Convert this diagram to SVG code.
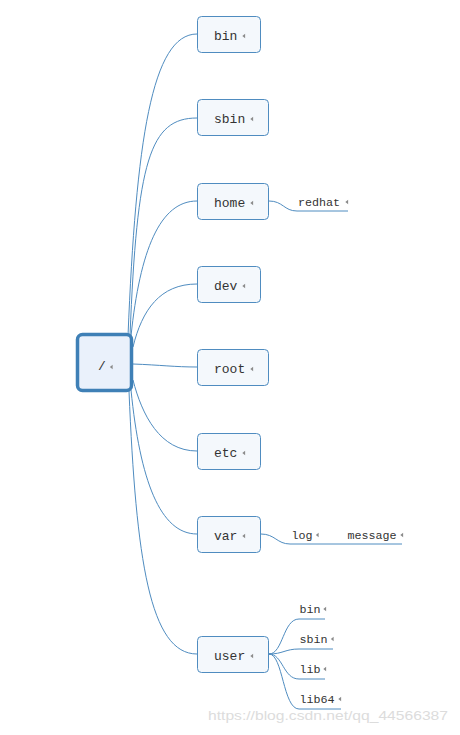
<svg xmlns="http://www.w3.org/2000/svg" width="460" height="735" viewBox="0 0 460 735">
<style>
.bg{fill:#ffffff}
.root{fill:#eaf1fb;stroke:#3f80b6;stroke-width:3.5}
.box{fill:#f4f8fc;stroke:#4f8cc0;stroke-width:1}
.t{font-family:"Liberation Mono","DejaVu Sans Mono",monospace;font-size:13px;fill:#333333}
.s{font-family:"Liberation Mono","DejaVu Sans Mono",monospace;font-size:11.7px;fill:#333333}
.c{fill:none;stroke:#4f8cc0;stroke-width:1}
.wm{font-family:"Liberation Sans",Arial,sans-serif;font-size:13.5px;fill:#dcdcdc}
.mk{fill:#8a8a8a}
</style>
<defs>
<path id="m" d="M1.6 -2.2 L-1.2 0 L1.6 2.2 Z"/>
</defs>
<rect class="bg" x="0" y="0" width="460" height="735"/>
<g id="connectors">
<path class="c" d="M128 336 C136 140 152 34 197 34"/>
<path class="c" d="M130 336 C137 160 150 118 197 118"/>
<path class="c" d="M131 336 C140 250 160 201 197 201"/>
<path class="c" d="M133 347 C142 310 160 284 197 284"/>
<path class="c" d="M133 364 C160 365 175 367 197 367"/>
<path class="c" d="M133 380 C142 415 160 451 197 451"/>
<path class="c" d="M131 390 C140 480 160 534 197 534"/>
<path class="c" d="M129 391 C136 560 150 654 197 654"/>
<path class="c" d="M269 201 C283 201 284 211 297 211 L348 211"/>
<path class="c" d="M261 534 C275 534 277 544 290 544 L402 544"/>
<path class="c" d="M269 654 C283 654 283 619 299 619 L325 619"/>
<path class="c" d="M269 654 C283 654 285 649 299 649 L333 649"/>
<path class="c" d="M269 654 C283 654 283 679 299 679 L325 679"/>
<path class="c" d="M269 654 C283 654 283 709 299 709 L341 709"/>
</g>
<g id="n-root">
<rect class="root" x="77.5" y="334.5" width="54" height="56" rx="5"/>
<text class="t" x="98" y="370" fill="#555">/</text>
<use href="#m" class="mk" x="111" y="367"/>
</g>
<g id="n-bin">
<rect class="box" x="197.5" y="16.5" width="63" height="36" rx="4"/>
<text class="t" x="214" y="40">bin</text>
<use href="#m" class="mk" x="243.5" y="36"/>
</g>
<g id="n-sbin">
<rect class="box" x="197.5" y="99.5" width="71" height="36" rx="4"/>
<text class="t" x="214" y="123">sbin</text>
<use href="#m" class="mk" x="251.5" y="119"/>
</g>
<g id="n-home">
<rect class="box" x="197.5" y="183.5" width="71" height="36" rx="4"/>
<text class="t" x="214" y="207">home</text>
<use href="#m" class="mk" x="251.5" y="203"/>
</g>
<g id="n-dev">
<rect class="box" x="197.5" y="266.5" width="63" height="36" rx="4"/>
<text class="t" x="214" y="290">dev</text>
<use href="#m" class="mk" x="243.5" y="286"/>
</g>
<g id="n-root2">
<rect class="box" x="197.5" y="349.5" width="71" height="36" rx="4"/>
<text class="t" x="214" y="373">root</text>
<use href="#m" class="mk" x="251.5" y="369"/>
</g>
<g id="n-etc">
<rect class="box" x="197.5" y="433.5" width="63" height="36" rx="4"/>
<text class="t" x="214" y="457">etc</text>
<use href="#m" class="mk" x="243.5" y="453"/>
</g>
<g id="n-var">
<rect class="box" x="197.5" y="516.5" width="63" height="36" rx="4"/>
<text class="t" x="214" y="540">var</text>
<use href="#m" class="mk" x="243.5" y="536"/>
</g>
<g id="n-user">
<rect class="box" x="197.5" y="636.5" width="71" height="36" rx="4"/>
<text class="t" x="214" y="660">user</text>
<use href="#m" class="mk" x="251.5" y="656"/>
</g>
<g id="n-redhat">
<text class="s" x="298" y="206">redhat</text>
<use href="#m" class="mk" x="346.5" y="202"/>
</g>
<g id="n-log">
<text class="s" x="291.5" y="539">log</text>
<use href="#m" class="mk" x="317" y="535"/>
</g>
<g id="n-message">
<text class="s" x="347.5" y="539">message</text>
<use href="#m" class="mk" x="401.5" y="535"/>
</g>
<g id="n-ubin">
<text class="s" x="299.5" y="613">bin</text>
<use href="#m" class="mk" x="324.5" y="609"/>
</g>
<g id="n-usbin">
<text class="s" x="299.5" y="643">sbin</text>
<use href="#m" class="mk" x="332" y="639"/>
</g>
<g id="n-ulib">
<text class="s" x="299.5" y="673">lib</text>
<use href="#m" class="mk" x="324.5" y="669"/>
</g>
<g id="n-ulib64">
<text class="s" x="299.5" y="703">lib64</text>
<use href="#m" class="mk" x="339.5" y="699"/>
</g>
<text class="wm" x="208" y="720" textLength="240" lengthAdjust="spacingAndGlyphs">https://blog.csdn.net/qq_44566387</text>
</svg>
